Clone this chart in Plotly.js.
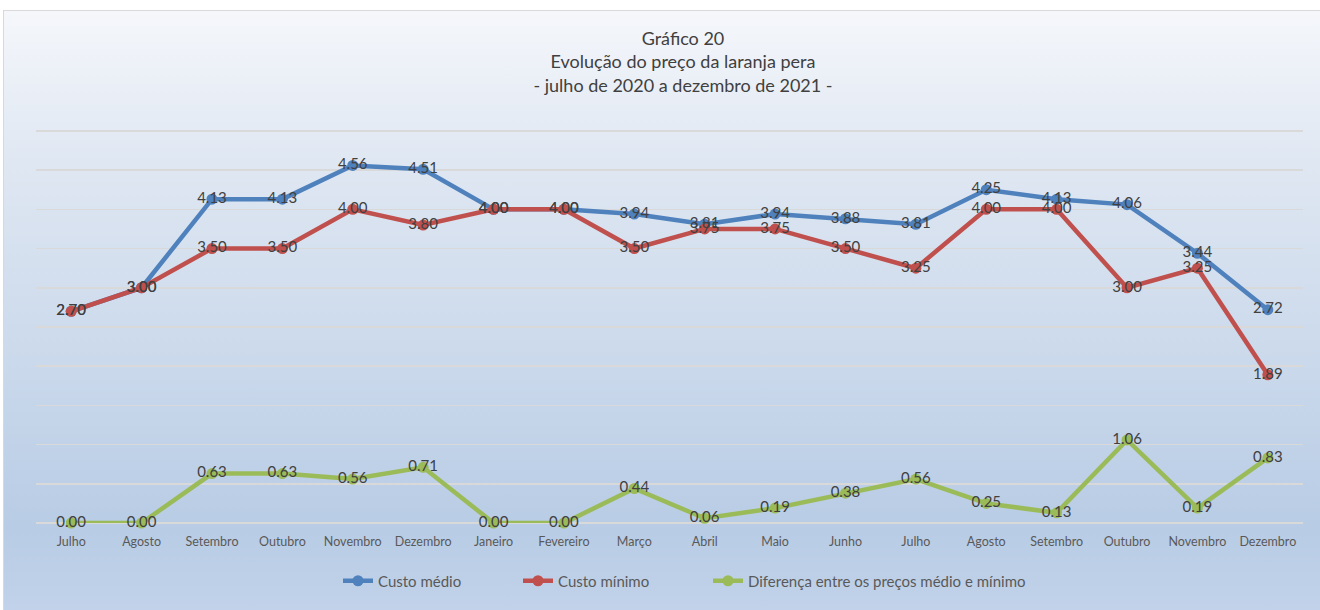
<!DOCTYPE html>
<html>
<head>
<meta charset="utf-8">
<script src="https://cdn.plot.ly/plotly-3.0.1.min.js"></script>
<style>
  html, body { margin: 0; padding: 0; width: 1320px; height: 610px; background: #ffffff; overflow: hidden; }
  #frame {
    position: absolute; left: 3px; top: 10px; width: 1320px; height: 610px;
    border: 1px solid #d9d9d9; box-sizing: border-box;
    background: linear-gradient(to bottom, #f5f7fb 0%, #dfe7f2 25%, #c9d8eb 60%, #b8cce5 85%, #c2d3ea 100%);
  }
  #chart { position: absolute; left: 0; top: 0; width: 1320px; height: 610px; }
</style>
</head>
<body>
<div id="frame"></div>
<div id="chart"></div>
<script>
const categories = ["Julho","Agosto","Setembro","Outubro","Novembro","Dezembro","Janeiro","Fevereiro","Março","Abril","Maio","Junho","Julho","Agosto","Setembro","Outubro","Novembro","Dezembro"];
const custoMedio = [2.70, 3.00, 4.13, 4.13, 4.56, 4.51, 4.00, 4.00, 3.94, 3.81, 3.94, 3.88, 3.81, 4.25, 4.13, 4.06, 3.44, 2.72];
const custoMinimo = [2.70, 3.00, 3.50, 3.50, 4.00, 3.80, 4.00, 4.00, 3.50, 3.75, 3.75, 3.50, 3.25, 4.00, 4.00, 3.00, 3.25, 1.89];
const diferenca = [0.00, 0.00, 0.63, 0.63, 0.56, 0.71, 0.00, 0.00, 0.44, 0.06, 0.19, 0.38, 0.56, 0.25, 0.13, 1.06, 0.19, 0.83];
const seriesNames = ["Custo médio", "Custo mínimo", "Diferença entre os preços médio e mínimo"];
const colors = ["#4f81bd", "#c0504d", "#9bbb59"];

const idx = categories.map((_, i) => i);
const fontFamily = "Lato, 'Open Sans', 'DejaVu Sans', sans-serif";
const seriesVals = [custoMedio, custoMinimo, diferenca];
const legendIds = ["legend", "legend2", "legend3"];

const lineTraces = seriesVals.map((vals, k) => ({
  type: "scatter", mode: "lines+markers",
  x: idx, y: vals, name: seriesNames[k], legend: legendIds[k],
  line: { color: colors[k], width: 4.5 },
  marker: { color: colors[k], size: 11 },
  cliponaxis: false, hoverinfo: "skip"
}));

const textTraces = seriesVals.map((vals, k) => ({
  type: "scatter", mode: "text",
  x: idx, y: vals, showlegend: false,
  texttemplate: "%{y:.2f}", textposition: "middle center",
  textfont: { family: fontFamily, size: 15, color: "#404040" },
  cliponaxis: false, hoverinfo: "skip"
}));

const data = lineTraces.concat(textTraces);

function legendAt(textStartPx) {
  return {
    orientation: "h",
    xref: "container", x: (textStartPx - 40) / 1320, xanchor: "left",
    yref: "container", y: 1 - 581 / 610, yanchor: "middle",
    font: { family: fontFamily, size: 15, color: "#595959" },
    bgcolor: "rgba(0,0,0,0)"
  };
}

const layout = {
  width: 1320, height: 610,
  paper_bgcolor: "rgba(0,0,0,0)", plot_bgcolor: "rgba(0,0,0,0)",
  margin: { l: 36, r: 17, t: 127, b: 87 },
  font: { family: fontFamily, color: "#595959" },
  title: {
    text: "Gráfico 20<br>Evolução do preço da laranja pera<br>- julho de 2020 a dezembro de 2021 -",
    font: { family: fontFamily, size: 18, color: "#404040" },
    xref: "container", x: 683 / 1320, xanchor: "center",
    yref: "container", y: 1 - 45 / 610, yanchor: "top"
  },
  xaxis: {
    tickmode: "array", tickvals: idx, ticktext: categories,
    range: [-0.5, categories.length - 0.5],
    showgrid: false, zeroline: false, showline: false,
    ticks: "", ticklabelstandoff: 9,
    tickfont: { family: fontFamily, size: 12.5, color: "#595959" },
    fixedrange: true
  },
  yaxis: {
    range: [0, 5.05], dtick: 0.5, tick0: 0,
    showticklabels: false, ticks: "",
    showgrid: true, gridcolor: "#d9d9d9", gridwidth: 1.5,
    zeroline: true, zerolinecolor: "#d9d9d9", zerolinewidth: 1.5,
    fixedrange: true
  },
  legend: legendAt(378),
  legend2: legendAt(558),
  legend3: legendAt(748),
  showlegend: true
};

Plotly.newPlot("chart", data, layout, { displayModeBar: false, staticPlot: true });
</script>
</body>
</html>
